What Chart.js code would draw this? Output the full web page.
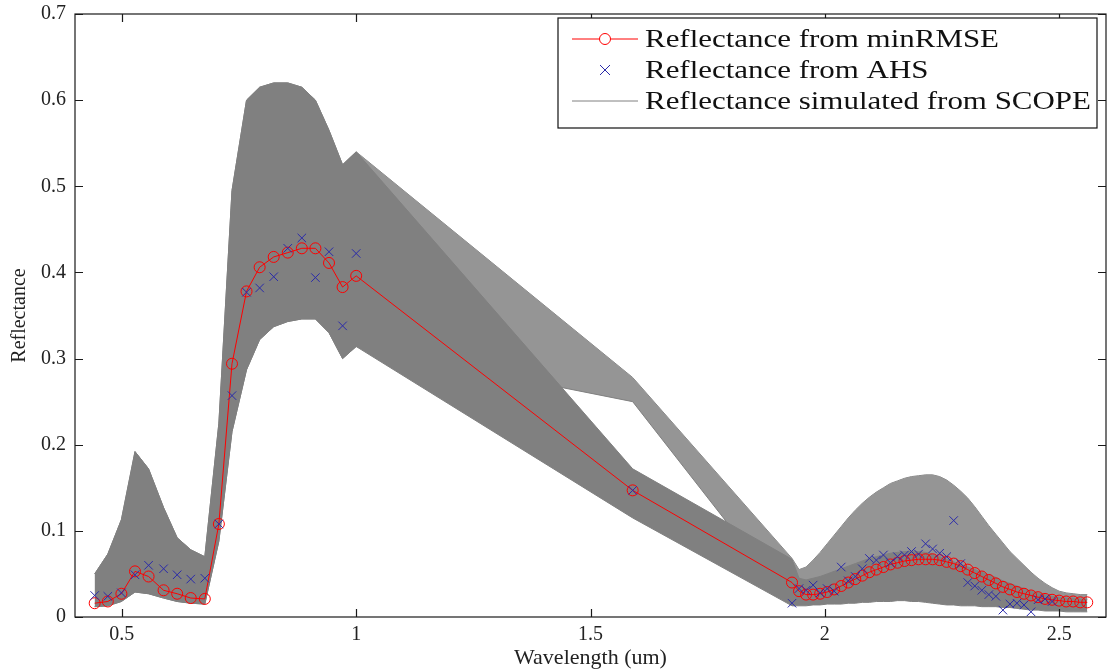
<!DOCTYPE html>
<html>
<head>
<meta charset="utf-8">
<script src="https://cdn.jsdelivr.net/npm/chart.js@4.4.1/dist/chart.umd.min.js"></script>
<style>
  html, body { margin: 0; padding: 0; background: #fff; }
  #wrap { width: 1113px; height: 671px; }
</style>
</head>
<body>
<div id="wrap"><canvas id="chart" width="1113" height="671"></canvas></div>
<script>
// band centres (um): VNIR, the single 1.59 band, SWIR
const vnirWavelength = [0.442, 0.470, 0.499, 0.528, 0.557, 0.589, 0.618, 0.647, 0.677, 0.707,
                        0.735, 0.766, 0.794, 0.824, 0.854, 0.884, 0.913, 0.942, 0.971, 1.000];
const midWavelength = [1.590];
const swirWavelength = [1.930, 1.945, 1.960, 1.975, 1.990, 2.005, 2.020, 2.035, 2.050, 2.065,
                        2.080, 2.095, 2.110, 2.125, 2.140, 2.155, 2.170, 2.185, 2.200, 2.215,
                        2.230, 2.245, 2.260, 2.275, 2.290, 2.305, 2.320, 2.335, 2.350, 2.365,
                        2.380, 2.395, 2.410, 2.425, 2.440, 2.455, 2.470, 2.485, 2.500, 2.515,
                        2.530, 2.545, 2.560];

// Reflectance from minRMSE (red circles)
const vnirRmse = [0.016, 0.018, 0.027, 0.053, 0.047, 0.031, 0.027, 0.022, 0.021, 0.108,
                  0.294, 0.378, 0.406, 0.418, 0.423, 0.428, 0.428, 0.411, 0.383, 0.396];
const midRmse = [0.147];
const swirRmse = [0.040, 0.030, 0.026, 0.026, 0.027, 0.029, 0.032, 0.036, 0.040, 0.044,
                  0.048, 0.052, 0.055, 0.058, 0.061, 0.063, 0.065, 0.066, 0.067, 0.067,
                  0.067, 0.066, 0.064, 0.062, 0.059, 0.055, 0.051, 0.047, 0.043, 0.039,
                  0.035, 0.032, 0.029, 0.027, 0.025, 0.023, 0.021, 0.020, 0.019, 0.018,
                  0.018, 0.017, 0.017];

// Reflectance from AHS (blue crosses)
const vnirAhs = [0.025, 0.024, 0.028, 0.049, 0.060, 0.056, 0.049, 0.044, 0.045, 0.108,
                 0.257, 0.377, 0.382, 0.395, 0.428, 0.440, 0.394, 0.424, 0.338, 0.422];
const midAhs = [0.147];
const swirAhs = [0.016, 0.033, 0.031, 0.037, 0.028, 0.033, 0.030, 0.058, 0.042, 0.047,
                 0.056, 0.068, 0.066, 0.072, 0.063, 0.070, 0.072, 0.076, 0.073, 0.085,
                 0.079, 0.074, 0.070, 0.112, 0.062, 0.040, 0.036, 0.031, 0.026, 0.024,
                 0.008, 0.015, 0.016, 0.014, 0.006, 0.020, 0.021, 0.018, null, null,
                 null, null, null];

// SCOPE simulations: envelope of the two bundles of simulated spectra
const vnirScopeLower = [0.012, 0.013, 0.018, 0.029, 0.027, 0.022, 0.018, 0.016, 0.015, 0.088,
                        0.215, 0.287, 0.322, 0.337, 0.343, 0.346, 0.346, 0.330, 0.300, 0.314];
const vnirScopeUpper = [0.050, 0.073, 0.113, 0.192, 0.172, 0.127, 0.092, 0.078, 0.070, 0.225,
                        0.495, 0.600, 0.615, 0.620, 0.620, 0.615, 0.600, 0.565, 0.525, 0.540];
const midScopeA = [0.115, 0.172];   // lower bundle at 1.59: min, max
const midScopeB = [0.250, 0.278];   // upper bundle at 1.59: min, max
const swirScopeLowerA = [0.013, 0.013, 0.013, 0.014, 0.014, 0.015, 0.015, 0.015, 0.016, 0.016,
                         0.017, 0.017, 0.018, 0.018, 0.018, 0.019, 0.019, 0.018, 0.018, 0.017,
                         0.016, 0.015, 0.014, 0.014, 0.013, 0.013, 0.013, 0.012, 0.012, 0.012,
                         0.011, 0.011, 0.010, 0.009, 0.008, 0.008, 0.007, 0.007, 0.007, 0.006,
                         0.006, 0.006, 0.006];
const swirScopeUpperA = [0.067, 0.045, 0.043, 0.045, 0.047, 0.050, 0.053, 0.056, 0.059, 0.062,
                         0.065, 0.068, 0.070, 0.072, 0.074, 0.075, 0.076, 0.076, 0.076, 0.075,
                         0.073, 0.070, 0.067, 0.064, 0.061, 0.058, 0.055, 0.052, 0.049, 0.046,
                         0.042, 0.039, 0.036, 0.033, 0.030, 0.028, 0.026, 0.024, 0.023, 0.022,
                         0.022, 0.021, 0.021];
const swirScopeLowerB = [0.013, 0.036, 0.036, 0.038, 0.040, 0.043, 0.046, 0.049, 0.052, 0.055,
                         0.058, 0.060, 0.062, 0.064, 0.066, 0.067, 0.068, 0.068, 0.068, 0.067,
                         0.065, 0.063, 0.060, 0.057, 0.054, 0.051, 0.048, 0.045, 0.042, 0.039,
                         0.036, 0.033, 0.031, 0.029, 0.027, 0.025, 0.024, 0.022, 0.021, 0.020,
                         0.020, 0.020, 0.020];
const swirScopeUpperB = [0.068, 0.055, 0.058, 0.066, 0.075, 0.085, 0.095, 0.105, 0.115, 0.124,
                         0.132, 0.139, 0.145, 0.150, 0.155, 0.158, 0.161, 0.163, 0.164, 0.165,
                         0.165, 0.163, 0.159, 0.153, 0.146, 0.138, 0.128, 0.117, 0.106, 0.096,
                         0.086, 0.076, 0.068, 0.060, 0.052, 0.045, 0.039, 0.034, 0.030, 0.028,
                         0.027, 0.026, 0.026];

const xTicks = [0.5, 1, 1.5, 2, 2.5];
const yTicks = [0, 0.1, 0.2, 0.3, 0.4, 0.5, 0.6, 0.7];
const legendLabels = ['Reflectance from minRMSE', 'Reflectance from AHS', 'Reflectance simulated from SCOPE'];

const RED = '#ff0000';
const BLUE = '#2a2aaa';
const GRAY = '#808080';
const SERIF = '"Liberation Serif", "Times New Roman", serif';

const wavelength = vnirWavelength.concat(midWavelength, swirWavelength);
const toPoints = vals => wavelength.map((w, i) => ({ x: w, y: vals[i] }));

const rmse = vnirRmse.concat(midRmse, swirRmse);
const ahs = vnirAhs.concat(midAhs, swirAhs);
const lowerA = vnirScopeLower.concat([midScopeA[0]], swirScopeLowerA);
const upperA = vnirScopeUpper.concat([midScopeA[1]], swirScopeUpperA);
const lowerB = vnirScopeLower.concat([midScopeB[0]], swirScopeLowerB);
const upperB = vnirScopeUpper.concat([midScopeB[1]], swirScopeUpperB);

const bandStyle = { pointRadius: 0, borderWidth: 1, borderColor: GRAY, tension: 0 };

// MATLAB style box with inward ticks on all four sides
const framePlugin = {
    id: 'frame',
    afterDatasetsDraw(chart) {
        const { ctx, chartArea: a, scales: { x, y } } = chart;
        ctx.save();
        ctx.strokeStyle = '#1a1a1a';
        ctx.lineWidth = 1.2;
        ctx.strokeRect(a.left, a.top, a.right - a.left, a.bottom - a.top);
        ctx.beginPath();
        xTicks.forEach(v => {
            const px = Math.round(x.getPixelForValue(v)) + 0.5;
            ctx.moveTo(px, a.bottom); ctx.lineTo(px, a.bottom - 8);
            ctx.moveTo(px, a.top); ctx.lineTo(px, a.top + 8);
        });
        yTicks.forEach(v => {
            const py = Math.round(y.getPixelForValue(v)) + 0.5;
            ctx.moveTo(a.left, py); ctx.lineTo(a.left + 8, py);
            ctx.moveTo(a.right, py); ctx.lineTo(a.right - 8, py);
        });
        ctx.stroke();
        ctx.restore();
    }
};

const legendPlugin = {
    id: 'matlabLegend',
    afterDraw(chart) {
        const { ctx, chartArea: a } = chart;
        const right = a.right - 9, top = a.top + 4;
        const left = right - 539, h = 110;
        ctx.save();
        ctx.fillStyle = '#fff';
        ctx.fillRect(left, top, right - left, h);
        ctx.strokeStyle = '#111';
        ctx.lineWidth = 1.2;
        ctx.strokeRect(left, top, right - left, h);

        const rows = [top + 21, top + 52, top + 83];
        const sx0 = left + 14, sx1 = left + 80, sxm = (sx0 + sx1) / 2;

        // minRMSE sample
        ctx.strokeStyle = RED; ctx.lineWidth = 1;
        ctx.beginPath(); ctx.moveTo(sx0, rows[0]); ctx.lineTo(sx1, rows[0]); ctx.stroke();
        ctx.fillStyle = '#fff';
        ctx.beginPath(); ctx.arc(sxm, rows[0], 5.5, 0, Math.PI * 2); ctx.fill(); ctx.stroke();
        // AHS sample
        ctx.strokeStyle = BLUE;
        ctx.beginPath();
        ctx.moveTo(sxm - 5, rows[1] - 5); ctx.lineTo(sxm + 5, rows[1] + 5);
        ctx.moveTo(sxm - 5, rows[1] + 5); ctx.lineTo(sxm + 5, rows[1] - 5);
        ctx.stroke();
        // SCOPE sample
        ctx.strokeStyle = GRAY;
        ctx.beginPath(); ctx.moveTo(sx0, rows[2]); ctx.lineTo(sx1, rows[2]); ctx.stroke();

        ctx.fillStyle = '#111';
        ctx.font = '26px ' + SERIF;
        ctx.textBaseline = 'middle';
        legendLabels.forEach((t, i) => {
            ctx.save();
            ctx.translate(left + 87, rows[i] + 1);
            ctx.scale(1.19, 1);
            ctx.fillText(t, 0, 0);
            ctx.restore();
        });
        ctx.restore();
    }
};

new Chart(document.getElementById('chart'), {
    type: 'line',
    data: {
        datasets: [
            {
                label: legendLabels[1], data: toPoints(ahs), showLine: false,
                pointStyle: 'crossRot', pointRadius: 6, borderColor: BLUE, borderWidth: 1
            },
            {
                label: legendLabels[0], data: toPoints(rmse), borderColor: RED, borderWidth: 1,
                pointStyle: 'circle', pointRadius: 5.5, pointBorderColor: RED,
                pointBackgroundColor: 'rgba(0,0,0,0)', pointBorderWidth: 1, tension: 0
            },
            { label: 'scopeLowerA', data: toPoints(lowerA), fill: '+1', backgroundColor: GRAY, ...bandStyle },
            { label: 'scopeUpperA', data: toPoints(upperA), fill: false, ...bandStyle },
            { label: 'scopeLowerB', data: toPoints(lowerB), fill: '+1', backgroundColor: '#959595', ...bandStyle },
            { label: 'scopeUpperB', data: toPoints(upperB), fill: false, ...bandStyle }
        ]
    },
    options: {
        responsive: false,
        animation: false,
        events: [],
        layout: { padding: { top: 14, right: 2, left: 0, bottom: 0 } },
        plugins: { legend: { display: false }, tooltip: { enabled: false } },
        scales: {
            x: {
                type: 'linear', min: 0.4, max: 2.6,
                afterBuildTicks: s => { s.ticks = xTicks.map(v => ({ value: v })); },
                afterFit: s => { s.height = 54; s.paddingLeft = 0; s.paddingRight = 0; },
                grid: { display: false, drawTicks: false },
                border: { display: false },
                ticks: { font: { family: SERIF, size: 20 }, color: '#222', padding: 6, maxRotation: 0, autoSkip: false,
                         callback: v => String(v) },
                title: { display: true, text: 'Wavelength (um)', color: '#222',
                         font: { family: SERIF, size: 22 }, padding: { top: 0, bottom: 0 } }
            },
            y: {
                type: 'linear', min: 0, max: 0.7,
                afterBuildTicks: s => { s.ticks = yTicks.map(v => ({ value: v })); },
                afterFit: s => { s.width = 75; s.paddingTop = 0; s.paddingBottom = 0; },
                grid: { display: false, drawTicks: false },
                border: { display: false },
                ticks: { font: { family: SERIF, size: 20 }, color: '#222', padding: 9, autoSkip: false,
                         callback: v => String(v) },
                title: { display: true, text: 'Reflectance', color: '#222',
                         font: { family: SERIF, size: 20 }, padding: { top: 8, bottom: 0 } }
            }
        }
    },
    plugins: [framePlugin, legendPlugin]
});
</script>
</body>
</html>
